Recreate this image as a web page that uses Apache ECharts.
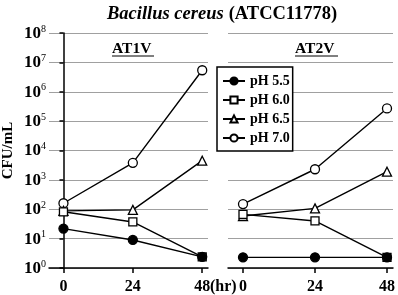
<!DOCTYPE html>
<html>
<head>
<meta charset="utf-8">
<script src="https://cdn.jsdelivr.net/npm/echarts@6/dist/echarts.min.js"></script>
<style>
html,body{margin:0;padding:0;background:#fff;}
#chart{width:398px;height:295px;}
</style>
</head>
<body>
<div id="chart"></div>
<script>
// 数据
var hours = [0, 24, 48];
var phNames = ['pH 5.5', 'pH 6.0', 'pH 6.5', 'pH 7.0'];

var at1v_ph55 = [22, 9, 2.4];
var at1v_ph60 = [82, 37, 2.4];
var at1v_ph65 = [88, 95, 4500];
var at1v_ph70 = [160, 3800, 5.4e6];

var at2v_ph55 = [2.3, 2.3, 2.3];
var at2v_ph60 = [67, 40, 2.3];
var at2v_ph65 = [59, 107, 1900];
var at2v_ph70 = [150, 2300, 2.7e5];

var FONT = 'Liberation Serif';
var symbols = [
	{symbol:'circle', fill:'#000', size:9},
	{symbol:'rect', fill:'#fff', size:8},
	{symbol:'triangle', fill:'#fff', size:9},
	{symbol:'circle', fill:'#fff', size:9}
];

function pairs(vals){
	return vals.map(function(v, i){ return [hours[i], v]; });
}

function makeSeries(list, axisIndex){
	return list.map(function(vals, k){
		return {
			name: phNames[k],
			type: 'line',
			xAxisIndex: axisIndex,
			yAxisIndex: axisIndex,
			data: pairs(vals),
			symbol: symbols[k].symbol,
			symbolSize: symbols[k].size,
			showAllSymbol: true,
			z: 10 - k,
			lineStyle: {color:'#000', width:1.4},
			itemStyle: {color:symbols[k].fill, borderColor:'#000', borderWidth:1.3},
			emphasis: {disabled:true}
		};
	});
}

function xAxis(gridIndex){
	return {
		gridIndex: gridIndex,
		type: 'value',
		min: -5,
		max: 50,
		axisLine: {lineStyle:{color:'#000', width:1.5}},
		axisTick: {show:true, length:5, customValues:hours, lineStyle:{color:'#000', width:1.5}},
		axisLabel: {customValues:hours, margin:11, fontFamily:FONT, fontWeight:'bold', fontSize:16, color:'#000'},
		splitLine: {show:false}
	};
}

var yLabelSpec = {
	margin: 3,
	formatter: function(v){
		var e = Math.round(Math.log10(v));
		return '{b|10}{s|' + e + '}';
	},
	rich: {
		b: {fontFamily:FONT, fontWeight:'bold', fontSize:17, color:'#000', verticalAlign:'bottom'},
		s: {fontFamily:FONT, fontSize:10, color:'#000', verticalAlign:'top', padding:[0,0,8,0]}
	}
};

function yAxis(gridIndex, withLabels){
	return {
		gridIndex: gridIndex,
		type: 'log',
		logBase: 10,
		min: 1,
		max: 1e8,
		name: withLabels ? 'CFU/mL' : '',
		nameLocation: 'middle',
		nameGap: 33,
		nameTextStyle: {fontFamily:FONT, fontWeight:'bold', fontSize:15, color:'#000'},
		axisLine: {show:withLabels, lineStyle:{color:'#000', width:1.5}},
		axisTick: {show:withLabels, length:4, lineStyle:{color:'#000', width:1.5}},
		axisLabel: withLabels ? yLabelSpec : {show:false},
		splitLine: {show:true, lineStyle:{color:'#a0a0a0', width:1}}
	};
}

var chart = echarts.init(document.getElementById('chart'));
chart.setOption({
	backgroundColor: '#fff',
	animation: false,
	title: {
		text: '{i|Bacillus cereus} {b|(ATCC11778)}',
		left: 102,
		top: 0,
		textStyle: {
			rich: {
				i: {fontFamily:FONT, fontWeight:'bold', fontStyle:'italic', fontSize:18.5, color:'#000'},
				b: {fontFamily:FONT, fontWeight:'bold', fontSize:18.5, color:'#000'}
			}
		}
	},
	legend: {
		left: 217,
		top: 67,
		orient: 'vertical',
		data: phNames,
		itemWidth: 22,
		itemHeight: 9,
		itemGap: 5,
		padding: [7, 3, 6, 5],
		borderColor: '#000',
		borderWidth: 1.5,
		backgroundColor: '#fff',
		textStyle: {fontFamily:FONT, fontWeight:'bold', fontSize:14, color:'#000'},
		selectedMode: false
	},
	grid: [
		{left:45, right:190, top:33, bottom:27},
		{left:228, right:5, top:33, bottom:27}
	],
	xAxis: [xAxis(0), xAxis(1)],
	yAxis: [yAxis(0, true), yAxis(1, false)],
	graphic: [
		{type:'text', left:112, top:41, style:{text:'AT1V', fontFamily:FONT, fontWeight:'bold', fontSize:15.5, fill:'#000'}},
		{type:'line', shape:{x1:112, y1:56, x2:154, y2:56}, style:{stroke:'#000', lineWidth:1}},
		{type:'text', left:295, top:41, style:{text:'AT2V', fontFamily:FONT, fontWeight:'bold', fontSize:15.5, fill:'#000'}},
		{type:'line', shape:{x1:295, y1:56, x2:338, y2:56}, style:{stroke:'#000', lineWidth:1}},
		{type:'text', left:210, top:279, style:{text:'(hr)', fontFamily:FONT, fontWeight:'bold', fontSize:16, fill:'#000'}}
	],
	series: makeSeries([at1v_ph55, at1v_ph60, at1v_ph65, at1v_ph70], 0)
		.concat(makeSeries([at2v_ph55, at2v_ph60, at2v_ph65, at2v_ph70], 1))
});
</script>
</body>
</html>
